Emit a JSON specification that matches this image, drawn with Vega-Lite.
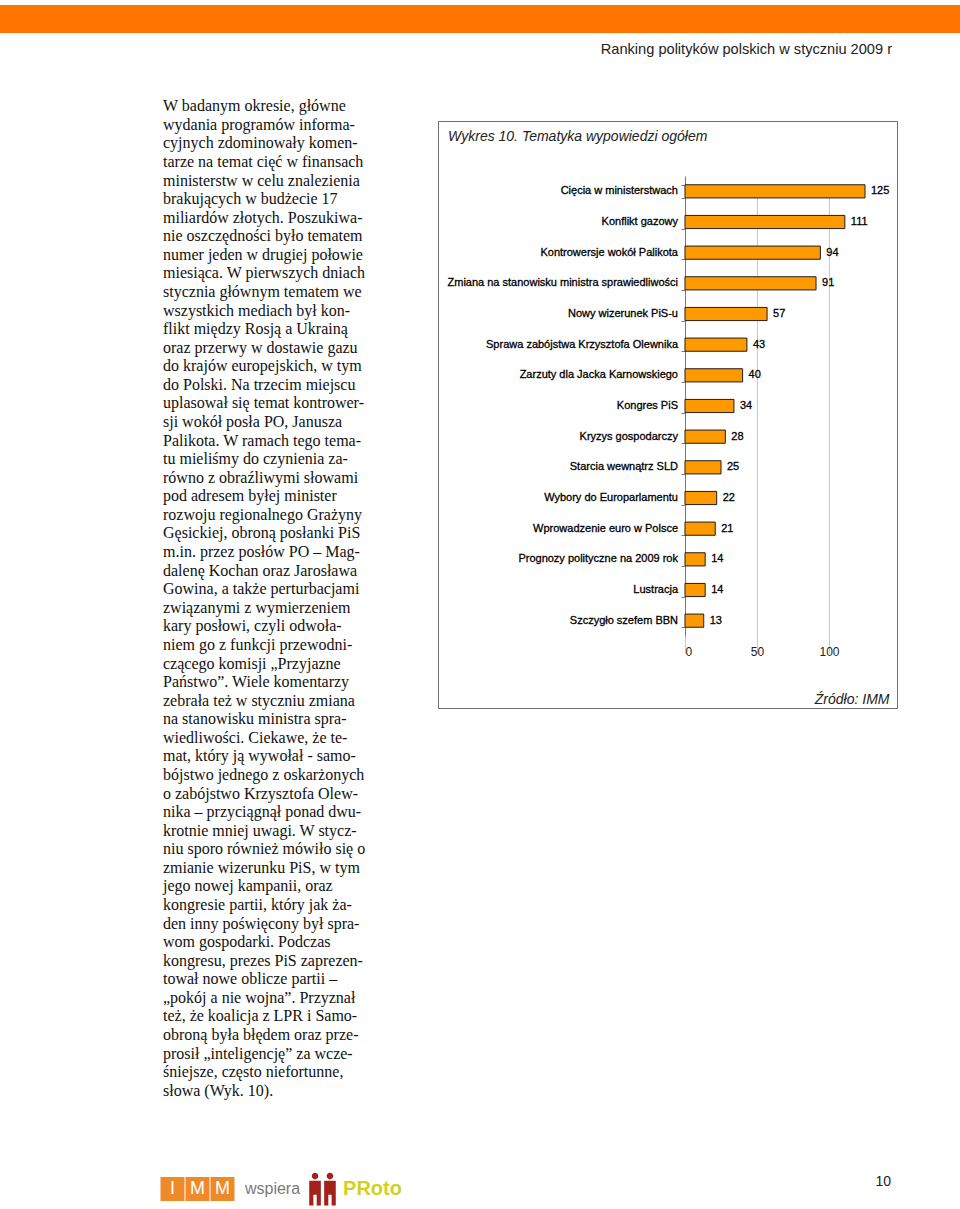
{
  "$schema": "https://vega.github.io/schema/vega-lite/v6.json",
  "padding": {"top": 5, "left": 0, "right": 0, "bottom": 0},
  "background": "white",
  "spacing": 36,
  "config": {"view": {"stroke": null}, "font": "Liberation Sans"},
  "datasets": {
    "topics": [
      {"topic": "Cięcia w ministerstwach", "count": 125},
      {"topic": "Konflikt gazowy", "count": 111},
      {"topic": "Kontrowersje wokół Palikota", "count": 94},
      {"topic": "Zmiana na stanowisku ministra sprawiedliwości", "count": 91},
      {"topic": "Nowy wizerunek PiS-u", "count": 57},
      {"topic": "Sprawa zabójstwa Krzysztofa Olewnika", "count": 43},
      {"topic": "Zarzuty dla Jacka Karnowskiego", "count": 40},
      {"topic": "Kongres PiS", "count": 34},
      {"topic": "Kryzys gospodarczy", "count": 28},
      {"topic": "Starcia wewnątrz SLD", "count": 25},
      {"topic": "Wybory do Europarlamentu", "count": 22},
      {"topic": "Wprowadzenie euro w Polsce", "count": 21},
      {"topic": "Prognozy polityczne na 2009 rok", "count": 14},
      {"topic": "Lustracja", "count": 14},
      {"topic": "Szczygło szefem BBN", "count": 13}
    ],
    "lines": [
      {"line": 1, "text": "W badanym okresie, główne"},
      {"line": 2, "text": "wydania programów informa-"},
      {"line": 3, "text": "cyjnych zdominowały komen-"},
      {"line": 4, "text": "tarze na temat cięć w finansach"},
      {"line": 5, "text": "ministerstw w celu znalezienia"},
      {"line": 6, "text": "brakujących w budżecie 17"},
      {"line": 7, "text": "miliardów złotych. Poszukiwa-"},
      {"line": 8, "text": "nie oszczędności było tematem"},
      {"line": 9, "text": "numer jeden w drugiej połowie"},
      {"line": 10, "text": "miesiąca. W pierwszych dniach"},
      {"line": 11, "text": "stycznia głównym tematem we"},
      {"line": 12, "text": "wszystkich mediach był kon-"},
      {"line": 13, "text": "flikt między Rosją a Ukrainą"},
      {"line": 14, "text": "oraz przerwy w dostawie gazu"},
      {"line": 15, "text": "do krajów europejskich, w tym"},
      {"line": 16, "text": "do Polski. Na trzecim miejscu"},
      {"line": 17, "text": "uplasował się temat kontrower-"},
      {"line": 18, "text": "sji wokół posła PO, Janusza"},
      {"line": 19, "text": "Palikota. W ramach tego tema-"},
      {"line": 20, "text": "tu mieliśmy do czynienia za-"},
      {"line": 21, "text": "równo z obraźliwymi słowami"},
      {"line": 22, "text": "pod adresem byłej minister"},
      {"line": 23, "text": "rozwoju regionalnego Grażyny"},
      {"line": 24, "text": "Gęsickiej, obroną posłanki PiS"},
      {"line": 25, "text": "m.in. przez posłów PO – Mag-"},
      {"line": 26, "text": "dalenę Kochan oraz Jarosława"},
      {"line": 27, "text": "Gowina, a także perturbacjami"},
      {"line": 28, "text": "związanymi z wymierzeniem"},
      {"line": 29, "text": "kary posłowi, czyli odwoła-"},
      {"line": 30, "text": "niem go z funkcji przewodni-"},
      {"line": 31, "text": "czącego komisji „Przyjazne"},
      {"line": 32, "text": "Państwo”. Wiele komentarzy"},
      {"line": 33, "text": "zebrała też w styczniu zmiana"},
      {"line": 34, "text": "na stanowisku ministra spra-"},
      {"line": 35, "text": "wiedliwości. Ciekawe, że te-"},
      {"line": 36, "text": "mat, który ją wywołał - samo-"},
      {"line": 37, "text": "bójstwo jednego z oskarżonych"},
      {"line": 38, "text": "o zabójstwo Krzysztofa Olew-"},
      {"line": 39, "text": "nika – przyciągnął ponad dwu-"},
      {"line": 40, "text": "krotnie mniej uwagi. W stycz-"},
      {"line": 41, "text": "niu sporo również mówiło się o"},
      {"line": 42, "text": "zmianie wizerunku PiS, w tym"},
      {"line": 43, "text": "jego nowej kampanii, oraz"},
      {"line": 44, "text": "kongresie partii, który jak ża-"},
      {"line": 45, "text": "den inny poświęcony był spra-"},
      {"line": 46, "text": "wom gospodarki. Podczas"},
      {"line": 47, "text": "kongresu, prezes PiS zaprezen-"},
      {"line": 48, "text": "tował nowe oblicze partii –"},
      {"line": 49, "text": "„pokój a nie wojna”. Przyznał"},
      {"line": 50, "text": "też, że koalicja z LPR i Samo-"},
      {"line": 51, "text": "obroną była błędem oraz prze-"},
      {"line": 52, "text": "prosił „inteligencję” za wcze-"},
      {"line": 53, "text": "śniejsze, często niefortunne,"},
      {"line": 54, "text": "słowa (Wyk. 10)."}
    ],
    "logos": [
      {"slot": 1, "label": "I", "kind": "box"},
      {"slot": 2, "label": "M", "kind": "box"},
      {"slot": 3, "label": "M", "kind": "box"},
      {"slot": 5, "label": "wspiera", "kind": "word"},
      {"slot": 7, "label": "", "kind": "figures"},
      {"slot": 9, "label": "PRoto", "kind": "brand"}
    ],
    "page": [{"page": "10"}],
    "blank": [{"none": ""}]
  },
  "vconcat": [
    {
      "width": 960,
      "height": 28,
      "view": {"fill": "#FF7300", "stroke": null},
      "data": {"name": "blank"},
      "mark": {"type": "text"},
      "encoding": {"text": {"value": ""}},
      "title": {
        "text": "Ranking polityków polskich w styczniu 2009 r",
        "orient": "bottom",
        "anchor": "end",
        "frame": "group",
        "offset": 17,
        "dx": -68,
        "baseline": "middle",
        "font": "Liberation Sans",
        "fontSize": 14.6,
        "fontWeight": "normal",
        "color": "#222222"
      }
    },
    {
      "hconcat": [
        {
          "width": 143,
          "height": 10,
          "data": {"name": "blank"},
          "mark": {"type": "text"},
          "encoding": {"text": {"value": ""}}
        },
        {
          "width": 255,
          "height": 1003,
          "data": {"name": "lines"},
          "mark": {"type": "text", "align": "left", "baseline": "middle", "font": "Liberation Serif", "fontSize": 16, "color": "#111111"},
          "encoding": {
            "y": {"field": "line", "type": "ordinal", "axis": null, "scale": {"padding": 0.5}},
            "x": {"datum": 0, "type": "quantitative", "scale": {"domain": [0, 1]}, "axis": null},
            "text": {"field": "text"}
          }
        },
        {
          "bounds": "flush",
          "spacing": 20,
          "vconcat": [
            {
              "width": 10,
              "height": 4,
              "data": {"name": "blank"},
              "mark": {"type": "text"},
              "encoding": {"text": {"value": ""}}
            },
            {
              "width": 459,
              "height": 587,
              "view": {"stroke": "#6e6e6e", "strokeWidth": 1},
              "title": {
                "text": "Wykres 10. Tematyka wypowiedzi ogółem",
                "orient": "top",
                "anchor": "start",
                "frame": "group",
                "offset": 0,
                "dx": 10,
                "dy": 23,
                "font": "Liberation Sans",
                "fontSize": 14,
                "fontStyle": "italic",
                "fontWeight": "normal",
                "color": "#222222"
              },
              "data": {"name": "topics"},
              "encoding": {
                "y": {
                  "field": "topic",
                  "type": "nominal",
                  "sort": null,
                  "scale": {"range": [55, 515], "paddingInner": 0.57, "paddingOuter": 0.285},
                  "axis": {
                    "title": null,
                    "orient": "left",
                    "offset": -247,
                    "domainColor": "#7a7a7a",
                    "tickColor": "#7a7a7a",
                    "tickSize": 4,
                    "tickBand": "extent",
                    "labels": false,
                    "grid": false
                  }
                },
                "x": {
                  "field": "count",
                  "type": "quantitative",
                  "scale": {"domain": [0, 150], "range": [247, 463]},
                  "axis": {
                    "orient": "bottom",
                    "offset": -72,
                    "values": [0, 50, 100],
                    "domain": false,
                    "ticks": false,
                    "grid": true,
                    "gridColor": "#c8c8c8",
                    "labelPadding": 10,
                    "labelFont": "Liberation Sans",
                    "labelFontSize": 12,
                    "labelColor": "#222222",
                    "title": "Źródło: IMM",
                    "titleFont": "Liberation Sans",
                    "titleFontSize": 14,
                    "titleFontStyle": "italic",
                    "titleFontWeight": "normal",
                    "titleColor": "#222222",
                    "titleAnchor": "end",
                    "titleAlign": "right",
                    "titleBaseline": "middle",
                    "titleX": 451,
                    "titleY": 63
                  }
                }
              },
              "layer": [
                {"mark": {"type": "bar", "fill": "#FF9900", "stroke": "#1e1e1e", "strokeWidth": 1}},
                {
                  "mark": {"type": "text", "align": "right", "baseline": "middle", "dx": -7, "font": "Liberation Sans", "fontSize": 11, "color": "#000000", "stroke": "#000000", "strokeWidth": 0.3},
                  "encoding": {
                    "x": {"datum": 0, "type": "quantitative"},
                    "text": {"field": "topic", "type": "nominal"}
                  }
                },
                {
                  "mark": {"type": "text", "align": "left", "baseline": "middle", "dx": 6, "font": "Liberation Sans", "fontSize": 11, "color": "#000000", "stroke": "#000000", "strokeWidth": 0.3},
                  "encoding": {"text": {"field": "count", "type": "quantitative"}}
                }
              ]
            }
          ]
        }
      ],
      "bounds": "flush",
      "spacing": 20
    },
    {
      "bounds": "flush",
      "spacing": 20,
      "hconcat": [
        {
          "width": 140,
          "height": 10,
          "data": {"name": "blank"},
          "mark": {"type": "text"},
          "encoding": {"text": {"value": ""}}
        },
        {
          "width": 250,
          "height": 104,
          "data": {"name": "logos"},
          "encoding": {
            "x": {"field": "slot", "type": "ordinal", "axis": null, "scale": {"domain": [1, 2, 3, 4, 5, 6, 7, 8, 9, 10], "paddingInner": 0, "paddingOuter": 0}}
          },
          "layer": [
            {
              "transform": [{"filter": "datum.kind === 'box'"}],
              "mark": {"type": "point", "shape": "square", "size": 576, "filled": true, "fill": "#EE8A2A", "opacity": 1}
            },
            {
              "transform": [{"filter": "datum.kind === 'box'"}],
              "mark": {"type": "text", "baseline": "middle", "align": "center", "font": "Liberation Sans", "fontSize": 18, "color": "#ffffff"},
              "encoding": {"text": {"field": "label"}}
            },
            {
              "transform": [{"filter": "datum.kind === 'word'"}],
              "mark": {"type": "text", "baseline": "middle", "align": "center", "font": "Liberation Sans", "fontSize": 16, "color": "#7a7a7a"},
              "encoding": {"text": {"field": "label"}}
            },
            {
              "transform": [{"filter": "datum.kind === 'figures'"}],
              "mark": {
                "type": "point",
                "filled": true,
                "fill": "#A3201C",
                "opacity": 1,
                "size": 1100,
                "shape": "M-0.8,-0.5H-0.1V1H-0.35V0.35H-0.55V1H-0.8Z M0.1,-0.5H0.8V1H0.55V0.35H0.35V1H0.1Z M-0.45,-0.98A0.2,0.2 0 1 1 -0.45,-0.58A0.2,0.2 0 1 1 -0.45,-0.98Z M0.45,-0.98A0.2,0.2 0 1 1 0.45,-0.58A0.2,0.2 0 1 1 0.45,-0.98Z"
              }
            },
            {
              "transform": [{"filter": "datum.kind === 'brand'"}],
              "mark": {"type": "text", "baseline": "middle", "align": "center", "font": "Liberation Sans", "fontSize": 20, "fontWeight": "bold", "color": "#D2D21E"},
              "encoding": {"text": {"field": "label"}}
            }
          ]
        },
        {
          "width": 461,
          "height": 90,
          "data": {"name": "page"},
          "mark": {"type": "text", "align": "right", "baseline": "middle", "font": "Liberation Sans", "fontSize": 14, "color": "#222222"},
          "encoding": {
            "x": {"datum": 1, "type": "quantitative", "scale": {"domain": [0, 1]}, "axis": null},
            "text": {"field": "page"}
          }
        }
      ]
    }
  ]
}
